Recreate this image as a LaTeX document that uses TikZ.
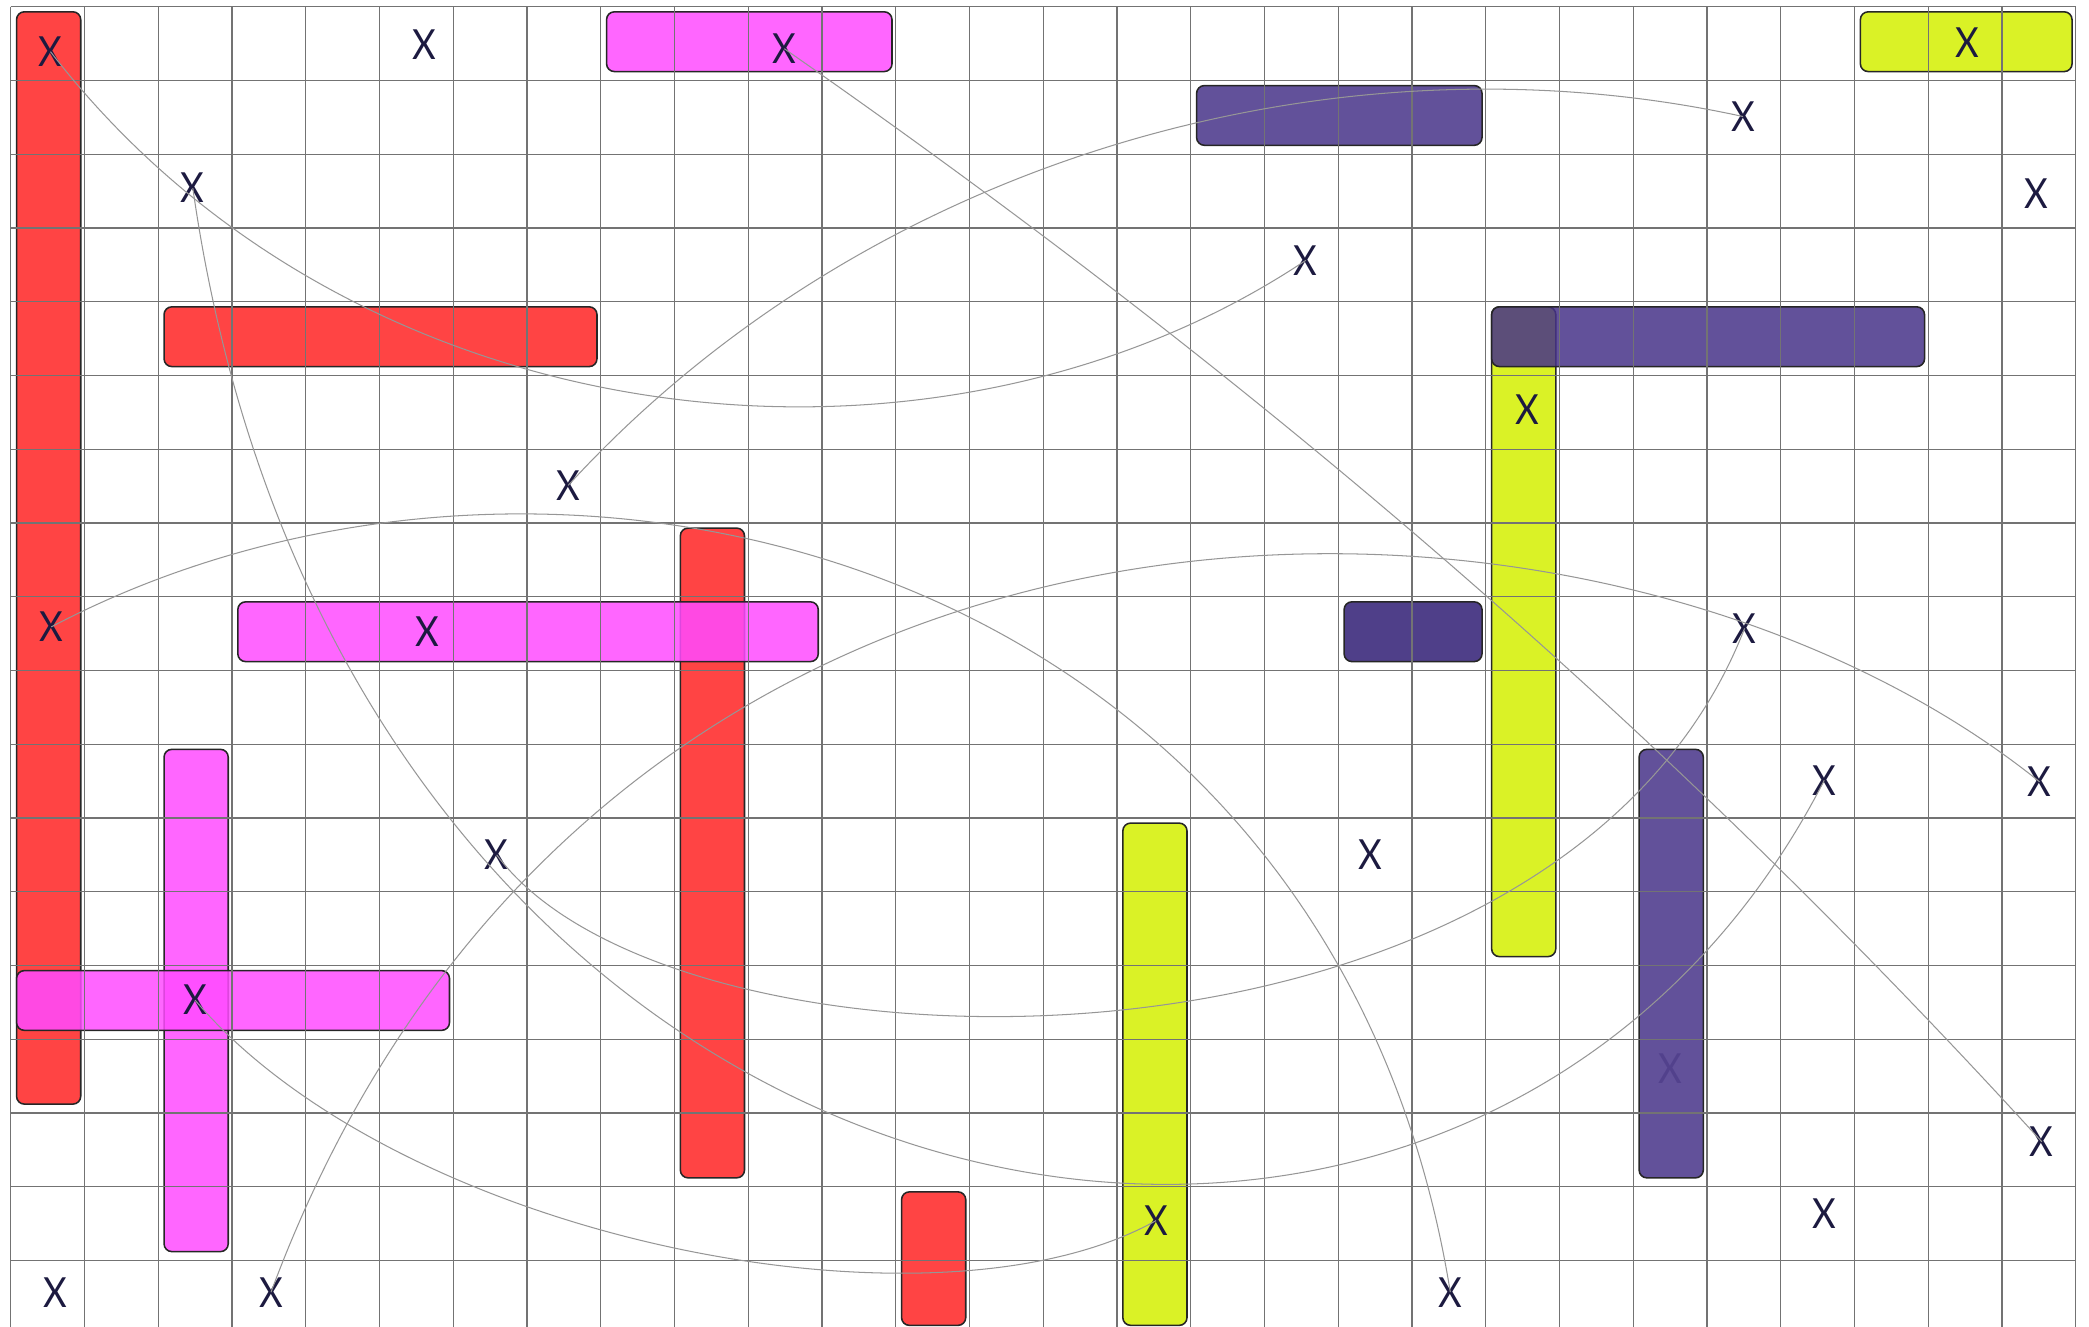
\documentclass[tikz,border=0pt]{standalone}
\usepackage{fontspec}
\newfontfamily\xfont[FakeStretch=0.88]{Lato}
\definecolor{slabRed}{RGB}{255,35,35}
\definecolor{slabPink}{RGB}{255,75,255}
\definecolor{slabLime}{RGB}{212,240,0}
\definecolor{slabPurple}{RGB}{70,50,136}
\definecolor{slabPurpleDk}{RGB}{48,29,116}
\definecolor{xNavy}{RGB}{28,26,64}
\definecolor{cellGray}{RGB}{115,115,115}
\definecolor{linkGray}{RGB}{150,150,150}

\begin{document}
\begin{tikzpicture}[
  y=-1cm,
  slab/.style={rounded corners=3pt, draw=black!85, line width=0.6pt, fill opacity=0.85},
  cellline/.style={draw=cellGray, line width=0.45pt},
  xlab/.style={inner sep=0pt, text=xNavy, font=\xfont\fontsize{16}{16}\selectfont},
  link/.style={draw=linkGray, line width=0.4pt},
]
\useasboundingbox (-0.1445,-0.0903) rectangle (28.18,17.90);

% one bar over whole cells: #1 colour, #2 first col, #3 first row, #4 last col, #5 last row
\newcommand{\slab}[5]{%
  \draw[slab, fill=#1] (#2+0.08,#3+0.07) rectangle (#4+0.95,#5+0.88);
}

% the mark that sits under the purple bar
\node[xlab, text opacity=0.45] (xs) at (22.50,14.40) {X};

% ======================= bars =======================
\slab{slabRed}{0}{0}{0}{14}
\slab{slabRed}{2}{4}{7}{4}
\slab{slabPink}{8}{0}{11}{0}
\slab{slabPurple}{16}{1}{19}{1}
\slab{slabLime}{25}{0}{27}{0}
\slab{slabLime}{20}{4}{20}{12}
\slab{slabPurple}{20}{4}{25}{4}
\slab{slabPurpleDk}{18}{8}{19}{8}
\slab{slabPurple}{22}{10}{22}{15}
\slab{slabRed}{9}{7}{9}{15}
\slab{slabPink}{3}{8}{10}{8}
\slab{slabPink}{2}{10}{2}{16}
\slab{slabPink}{0}{13}{5}{13}
\slab{slabRed}{12}{16}{12}{17}
\slab{slabLime}{15}{11}{15}{17}

% ======================= grid =======================
\foreach \c in {0,...,28}
  \draw[cellline] (\c,0) -- (\c,18);
\foreach \r in {0,...,18}
  \draw[cellline] (0,\r) -- (28,\r);

% ======================= marks =======================
\node[xlab] (xa) at (0.54,0.61)   {X};
\node[xlab] (xb) at (5.61,0.51)   {X};
\node[xlab] (xc) at (10.49,0.57)  {X};
\node[xlab] (xd) at (26.53,0.49)  {X};
\node[xlab] (xe) at (23.49,1.49)  {X};
\node[xlab] (xf) at (27.46,2.53)  {X};
\node[xlab] (xg) at (2.47,2.46)   {X};
\node[xlab] (xh) at (17.56,3.44)  {X};
\node[xlab] (xi) at (20.57,5.47)  {X};
\node[xlab] (xj) at (7.56,6.49)   {X};
\node[xlab] (xk) at (0.55,8.41)   {X};
\node[xlab] (xl) at (5.65,8.47)   {X};
\node[xlab] (xm) at (23.51,8.43)  {X};
\node[xlab] (xn) at (24.59,10.49) {X};
\node[xlab] (xo) at (27.51,10.51) {X};
\node[xlab] (xp) at (6.59,11.50)  {X};
\node[xlab] (xq) at (18.44,11.50) {X};
\node[xlab] (xr) at (2.50,13.47)  {X};
\node[xlab] (xt) at (27.54,15.39) {X};
\node[xlab] (xu) at (15.53,16.46) {X};
\node[xlab] (xv) at (24.59,16.37) {X};
\node[xlab] (xw) at (0.61,17.43)  {X};
\node[xlab] (xx) at (3.53,17.43)  {X};
\node[xlab] (xy) at (19.52,17.43) {X};

% ======================= links =======================
\draw[link] (xa.center) .. controls (4.70,6.00) and (12.60,6.75) .. (xh.center);
\draw[link] (xg.center) .. controls (4.55,17.07) and (19.73,19.96) .. (xn.center);
\draw[link] (xk.center) .. controls (7.44,4.79) and (17.92,7.50) .. (xy.center);
\draw[link] (xx.center) .. controls (7.98,5.45) and (21.53,5.70) .. (xo.center);
\draw[link] (xp.center) .. controls (9.00,14.75) and (20.99,14.90) .. (xm.center);
\draw[link] (xr.center) .. controls (5.27,16.71) and (12.50,18.15) .. (xu.center);
\draw[link] (xj.center) .. controls (11.60,2.08) and (17.92,0.27) .. (xe.center);
\draw[link] (xc.center) .. controls (16.17,4.53) and (21.86,9.16) .. (xt.center);

\end{tikzpicture}
\end{document}
